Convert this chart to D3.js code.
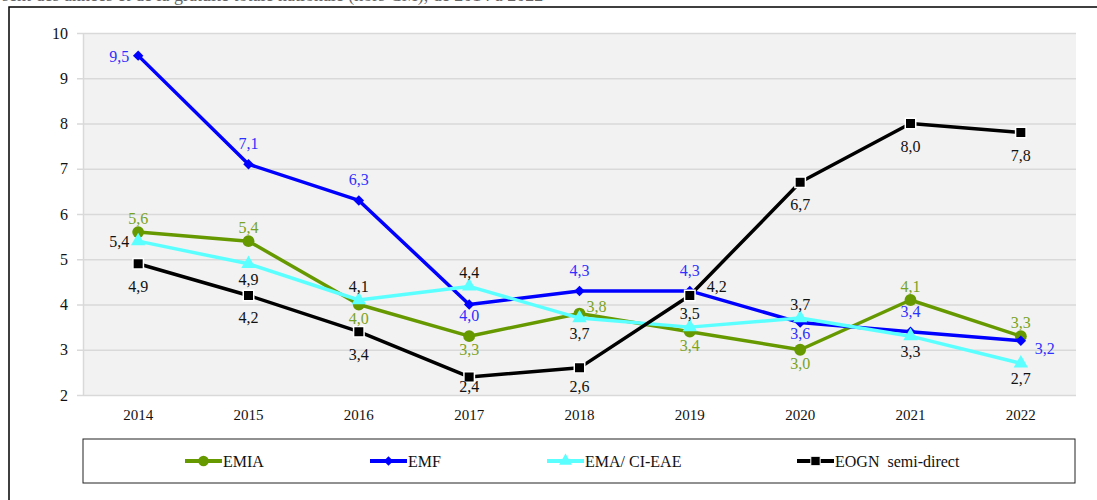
<!DOCTYPE html>
<html>
<head>
<meta charset="utf-8">
<script src="https://cdn.jsdelivr.net/npm/d3@7"></script>
<style>
  body { margin: 0; background: #fff; }
</style>
</head>
<body>
<svg id="chart" width="1097" height="500"></svg>
<script>
//=========================== data ============================================

var years     = ["2014","2015","2016","2017","2018","2019","2020","2021","2022"];
var yTicks    = [2,3,4,5,6,7,8,9,10];
var emia      = [5.6, 5.4, 4.0, 3.3, 3.8, 3.4, 3.0, 4.1, 3.3];
var emf       = [9.5, 7.1, 6.3, 4.0, 4.3, 4.3, 3.6, 3.4, 3.2];
var ema       = [5.4, 4.9, 4.1, 4.4, 3.7, 3.5, 3.7, 3.3, 2.7];
var eogn      = [4.9, 4.2, 3.4, 2.4, 2.6, 4.2, 6.7, 8.0, 7.8];
var seriesNames = ["EMIA", "EMF", "EMA/ CI-EAE", "EOGN  semi-direct"];

// where each value label sits relative to its point
var emiaPos = ["t","t","b","b","r","b","b","t","t"];
var emfPos  = ["l","t","t","b","t","t","b","t","r"];
var emaPos  = ["l","b","t","t","b","t","t","b","b"];
var eognPos = ["b","b","b","b","b","r","b","b","b"];

var FONT = '"Liberation Serif", "Times New Roman", serif';

//=========================== layout ==========================================

var svg = d3.select("#chart");
var plot = {left: 83, right: 1076, top: 33, bottom: 395};

var x = d3.scaleBand().domain(years).range([plot.left, plot.right]);
var y = d3.scaleLinear().domain([2, 10]).range([plot.bottom, plot.top]);

// cut-off caption line above the frame
svg.append("text")
    .attr("x", 2).attr("y", 0.5)
    .style("font-family", FONT)
    .style("font-size", "18px")
    .style("fill", "#666")
    .text("sent des années et de la gratuité totale nationale (hors CM), de 2014 à 2022");

// outer frame
svg.append("rect")
    .attr("x", 9).attr("y", 7)
    .attr("width", 1200).attr("height", 600)
    .style("fill", "#fff")
    .style("stroke", "#000")
    .style("stroke-width", 1.5);

// plot background
svg.append("rect")
    .attr("x", plot.left).attr("y", plot.top)
    .attr("width", plot.right - plot.left)
    .attr("height", plot.bottom - plot.top)
    .style("fill", "#f2f2f2");

// y axis with gridlines
var yAxis = svg.append("g")
    .attr("transform", "translate(" + plot.left + ",0)")
    .call(d3.axisLeft(y).tickValues(yTicks)
        .tickSize(-(plot.right - plot.left))
        .tickSizeOuter(0)
        .tickPadding(15)
        .tickFormat(d3.format("d")));
yAxis.select(".domain").style("stroke", "#d9d9d9").style("stroke-width", 1.5);
yAxis.selectAll(".tick line")
    .attr("x1", -6)
    .style("stroke", "#d9d9d9").style("stroke-width", 1.5);
yAxis.selectAll(".tick text")
    .style("font-family", FONT)
    .style("font-size", "16px").style("fill", "#111");

// x axis labels
var xAxis = svg.append("g")
    .attr("transform", "translate(0," + plot.bottom + ")")
    .call(d3.axisBottom(x).tickSize(0).tickPadding(14));
xAxis.select(".domain").remove();
xAxis.selectAll(".tick text")
    .style("font-family", FONT)
    .style("font-size", "15px").style("fill", "#111");

//=========================== series ==========================================

var fmt = function(v) { return d3.format(".1f")(v).replace(".", ","); };

// label offsets: t/b = baseline shift above/below, r = shift to the right
var series = [
    {name: seriesNames[0], values: emia, pos: emiaPos, color: "#669900", label: "#7aa31f",
     symbol: d3.symbolCircle, size: 110, stroke: "none",
     off: {t: -8, b: 19, rdx: 7, rdy: -2}},
    {name: seriesNames[1], values: emf, pos: emfPos, color: "#0000ff", label: "#2f2fff",
     symbol: d3.symbolDiamond2, size: 70, stroke: "none",
     off: {t: -15, b: 16, rdx: 14, rdy: 13}},
    {name: seriesNames[2], values: ema, pos: emaPos, color: "#5cffff", label: "#111",
     symbol: d3.symbolTriangle, size: 90, stroke: "none",
     off: {t: -8, b: 21, rdx: 10, rdy: 0}},
    {name: seriesNames[3], values: eogn, pos: eognPos, color: "#000000", label: "#111",
     symbol: d3.symbolSquare, size: 110, stroke: "#fff",
     off: {t: -10, b: 28, rdx: 17, rdy: -3}}
];

var cx = function(d, i) { return x(years[i]) + x.bandwidth() / 2; };

var line = d3.line()
    .x(function(d, i) { return cx(d, i); })
    .y(function(d) { return y(d); });

series.forEach(function(s) {
    var g = svg.append("g");
    g.append("path")
        .datum(s.values)
        .attr("d", line)
        .style("fill", "none")
        .style("stroke", s.color)
        .style("stroke-width", 3.5)
        .style("stroke-linejoin", "round");
    g.selectAll(".mark")
        .data(s.values)
        .enter().append("path")
        .attr("d", d3.symbol().type(s.symbol).size(s.size))
        .attr("transform", function(d, i) { return "translate(" + cx(d, i) + "," + y(d) + ")"; })
        .style("fill", s.color)
        .style("stroke", s.stroke)
        .style("stroke-width", 1.5);
});

// value labels drawn last so they stay on top
series.forEach(function(s) {
    svg.append("g").selectAll("text")
        .data(s.values)
        .enter().append("text")
        .attr("x", function(d, i) {
            var p = s.pos[i];
            if (p == "l") return cx(d, i) - 9;
            if (p == "r") return cx(d, i) + s.off.rdx;
            return cx(d, i);
        })
        .attr("y", function(d, i) {
            var p = s.pos[i];
            if (p == "t") return y(d) + s.off.t;
            if (p == "b") return Math.min(y(d) + s.off.b, plot.bottom - 3);
            if (p == "l") return y(d) + 6;
            if (p == "r") return y(d) + s.off.rdy;
            return y(d);
        })
        .attr("text-anchor", function(d, i) {
            var p = s.pos[i];
            if (p == "l") return "end";
            if (p == "r") return "start";
            return "middle";
        })
        .style("font-family", FONT)
        .style("font-size", "16px")
        .style("fill", s.label)
        .text(fmt);
});

//=========================== legend ==========================================

svg.append("rect")
    .attr("x", 83).attr("y", 439)
    .attr("width", 992).attr("height", 44)
    .style("fill", "#fff")
    .style("stroke", "#222")
    .style("stroke-width", 1);

var legendX = [185, 370, 547, 797];

series.forEach(function(s, i) {
    var lg = svg.append("g").attr("transform", "translate(" + legendX[i] + ",461)");
    lg.append("line")
        .attr("x1", 0).attr("x2", 37)
        .style("stroke", s.color)
        .style("stroke-width", 4);
    lg.append("path")
        .attr("d", d3.symbol().type(s.symbol).size(s.size * 0.8))
        .attr("transform", "translate(18.5,0)")
        .style("fill", s.color)
        .style("stroke", s.stroke);
    lg.append("text")
        .attr("x", 38).attr("y", 5.5)
        .style("font-family", FONT)
        .style("font-size", "16px")
        .style("fill", "#111")
        .style("white-space", "pre")
        .text(s.name);
});
</script>
</body>
</html>
